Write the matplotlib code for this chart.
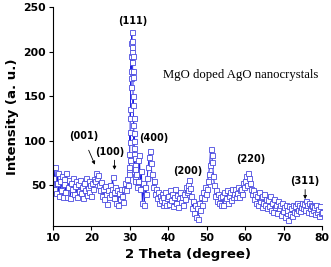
import numpy as np
import matplotlib
matplotlib.use("Agg")
import matplotlib.pyplot as plt

# intensity, 10.00 - 29.75 deg, step 0.25
intensity_low = [
    58, 45, 70, 41, 52, 63, 38, 55, 44, 60, 36, 51, 57, 42, 64, 37,
    48, 56, 35, 52, 45, 58, 40, 49, 54, 37, 51, 43, 56, 41, 48, 35,
    52, 44, 58, 39, 47, 55, 42, 50, 38, 52, 46, 57, 55, 64, 58, 61,
    50, 44, 53, 38, 46, 34, 49, 40, 29, 44, 36, 50, 40, 46, 59, 42,
    35, 48, 30, 44, 28, 41, 34, 46, 38, 31, 45, 52, 44, 57, 50, 66,
]
# (111) peak, 29.80 - 31.45 deg, step 0.05
intensity_peak = [
    70, 62, 85, 78, 110, 98, 135, 125, 170, 160, 195, 178, 210, 200, 222, 205,
    212, 188, 195, 172, 178, 140, 150, 118, 125, 100, 108, 85, 92, 72, 80, 60,
    68, 55,
]
# 31.50 - 80.00 deg, step 0.25
intensity_high = [
    62, 48,
    78, 55, 84, 45, 66, 30, 52, 28, 48, 40, 58, 70, 82, 88, 75, 62,
    48, 55, 40, 46, 35, 42, 30, 38, 33, 40, 28, 36, 31, 42, 27, 35,
    38, 29, 44, 33, 40, 26, 36, 45, 30, 39, 25, 35, 42, 31, 37, 28,
    40, 34, 48, 42, 50, 44, 56, 47, 38, 24, 32, 18, 28, 14, 24, 12,
    30, 22, 36, 28, 42, 35, 48, 40, 45, 55, 62, 72, 91, 84, 76, 60,
    50, 38, 44, 32, 40, 30, 36, 27, 38, 28, 42, 33, 35, 44, 30, 38,
    42, 33, 46, 37, 40, 45, 36, 41, 41, 48, 36, 44, 46, 40, 52, 48,
    55, 60, 50, 64, 58, 52, 46, 40, 44, 34, 40, 30, 38, 28, 42, 32,
    36, 25, 38, 30, 40, 27, 34, 24, 33, 26, 38, 22, 30, 20, 34, 25,
    28, 19, 32, 24, 27, 16, 30, 21, 25, 14, 28, 18, 22, 11, 26, 17,
    24, 15, 28, 20, 26, 18, 30, 22, 28, 21, 25, 30, 24, 29, 22, 32,
    27, 20, 30, 24, 28, 19, 26, 22, 25, 17, 28, 20, 23, 15, 26, 18,
    20,
]

peak_labels = ["(111)", "(001)", "(100)", "(400)", "(200)", "(220)", "(311)"]
label_x = [30.7, 18.1, 24.9, 36.2, 45.0, 61.4, 75.5]
label_y = [235, 105, 87, 103, 66, 79, 55]

# arrows: (start), (end)
arrow_start = [(19.0, 92), (26.0, 81), (75.6, 48)]
arrow_end = [(21.2, 70), (26.0, 64), (75.6, 31)]


def main():
    theta_low = 10 + 0.25 * np.arange(len(intensity_low))
    theta_peak = 29.8 + 0.05 * np.arange(len(intensity_peak))
    theta_high = 31.5 + 0.25 * np.arange(len(intensity_high))
    two_theta = np.concatenate([theta_low, theta_peak, theta_high])
    intensity = np.concatenate([intensity_low, intensity_peak, intensity_high])

    fig = plt.figure(figsize=(3.31, 2.67), dpi=100)
    ax = fig.add_axes([0.16, 0.154, 0.813, 0.819])

    ax.plot(two_theta, intensity, color="#1f1fe6", lw=0.7,
            marker="s", ms=3.6, mfc="white", mec="#4a4ae0", mew=0.6)

    ax.set_xlim(10, 80)
    ax.set_ylim(4, 250)
    ax.set_xticks([10, 20, 30, 40, 50, 60, 70, 80])
    ax.set_yticks([50, 100, 150, 200, 250])
    ax.spines["top"].set_visible(False)
    ax.spines["right"].set_visible(False)
    ax.tick_params(direction="out", length=3, width=0.8, labelsize=7.8, pad=2)
    for lbl in ax.get_xticklabels() + ax.get_yticklabels():
        lbl.set_fontweight("bold")

    ax.set_xlabel("2 Theta (degree)", fontsize=9.5, fontweight="bold", labelpad=4)
    ax.set_ylabel("Intensity (a. u.)", fontsize=9.5, fontweight="bold", labelpad=3)

    for txt, x, y in zip(peak_labels, label_x, label_y):
        ax.text(x, y, txt, fontsize=7, fontweight="bold", ha="center", va="center")

    for s, e in zip(arrow_start, arrow_end):
        ax.annotate("", xy=e, xytext=s,
                    arrowprops=dict(arrowstyle="-|>", lw=0.6, color="black",
                                    mutation_scale=5))

    ax.text(38.5, 174, "MgO doped AgO nanocrystals", fontsize=9.2,
            family="Liberation Serif", ha="left", va="center")

    fig.savefig("out.png", dpi=100)


if __name__ == "__main__":
    main()
